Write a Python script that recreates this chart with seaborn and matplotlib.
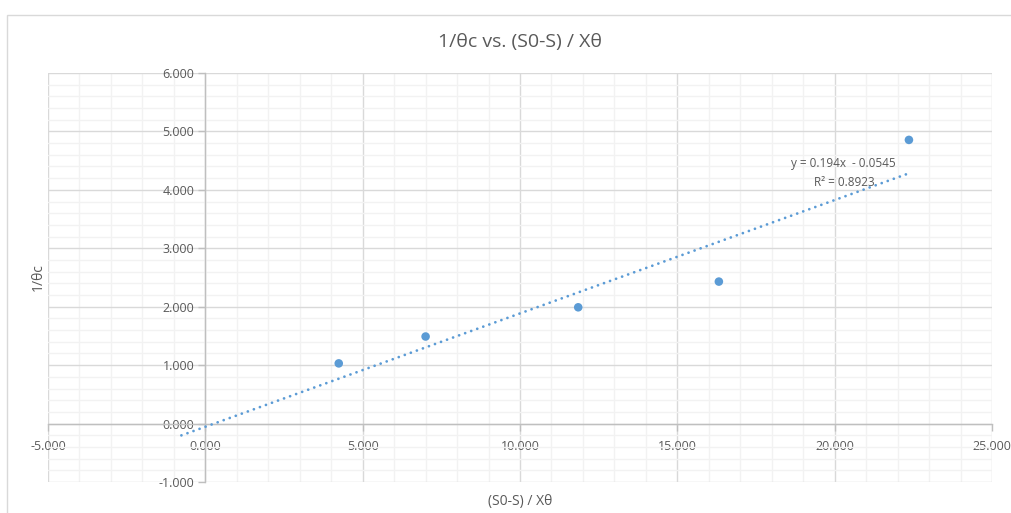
import numpy as np
import pandas as pd
import matplotlib.pyplot as plt
from matplotlib.patches import Rectangle
from matplotlib.ticker import MultipleLocator, FormatStrFormatter
import seaborn as sns

# --- Data ---
x_vals = [4.24, 7.00, 11.85, 16.32, 22.36]
y_vals = [1.03, 1.49, 1.99, 2.43, 4.855]
slope = 0.194
intercept = -0.0545
trend_start = -0.76
trend_end = 22.36

df = pd.DataFrame({'x': x_vals, 'y': y_vals})
trend_x = np.array([trend_start, trend_end])
trend = pd.DataFrame({'x': trend_x, 'y': slope * trend_x + intercept})

sns.set_theme(style='white')
plt.rcParams['font.family'] = ['Open Sans', 'DejaVu Sans']

blue = '#5b9bd5'
txt = '#595959'

fig = plt.figure(figsize=(10.12, 5.13), dpi=100)
ax = fig.add_axes([48 / 1012, 31 / 513, 944 / 1012, 409 / 513])

# outer chart frame
fig.patches.append(Rectangle((7 / 1012, -0.1), 2, (513 - 15) / 513 + 0.1,
                             transform=fig.transFigure, fill=False,
                             ec='#d9d9d9', lw=1))

# linear trendline (dotted)
ax.plot(trend['x'], trend['y'], linestyle=(0, (0.01, 2.3)), color=blue,
        lw=2, dash_capstyle='round', zorder=3)
sns.scatterplot(x='x', y='y', data=df, ax=ax, color=blue, s=38,
                edgecolor='none', zorder=4)

ax.set_xlim(-5, 25)
ax.set_ylim(-1, 6)
ax.xaxis.set_major_locator(MultipleLocator(5))
ax.xaxis.set_minor_locator(MultipleLocator(1))
ax.yaxis.set_major_locator(MultipleLocator(1))
ax.yaxis.set_minor_locator(MultipleLocator(0.2))
ax.xaxis.set_major_formatter(FormatStrFormatter('%.3f'))
ax.yaxis.set_major_formatter(FormatStrFormatter('%.3f'))

ax.grid(which='major', color='#d9d9d9', lw=1, zorder=0)
ax.grid(which='minor', color='#f2f2f2', lw=1, zorder=0)
ax.set_axisbelow(True)

for s in ['top', 'right']:
    ax.spines[s].set_visible(False)
ax.spines['left'].set_position(('data', 0))
ax.spines['bottom'].set_position(('data', 0))
for s in ['left', 'bottom']:
    ax.spines[s].set_color('#bfbfbf')
    ax.spines[s].set_linewidth(1)

ax.tick_params(axis='both', which='major', direction='out', length=5,
               width=1, color='#bfbfbf', labelsize=9, labelcolor=txt, pad=3,
               left=True, bottom=True)
ax.tick_params(axis='both', which='minor', length=0)
ax.tick_params(axis='x', pad=7)

ax.set_xlabel('(S0-S) / Xθ', fontsize=10, color=txt)
ax.set_ylabel('1/θc', fontsize=10, color=txt)
ax.xaxis.set_label_coords(0.5, -0.03)
ax.yaxis.set_label_coords(-0.002, 0.5)

fig.text(520 / 1012, 1 - 42 / 513, '1/θc vs. (S0-S) / Xθ', ha='center',
         va='center', fontsize=14, color=txt)

fig.text(843 / 1012, 1 - 164 / 513, 'y = 0.194x  - 0.0545', ha='center',
         va='center', fontsize=8.5, color=txt)
fig.text(844 / 1012, 1 - 182 / 513, 'R² = 0.8923', ha='center',
         va='center', fontsize=8.5, color=txt)

plt.savefig('out.png', dpi=100)
plt.close()
